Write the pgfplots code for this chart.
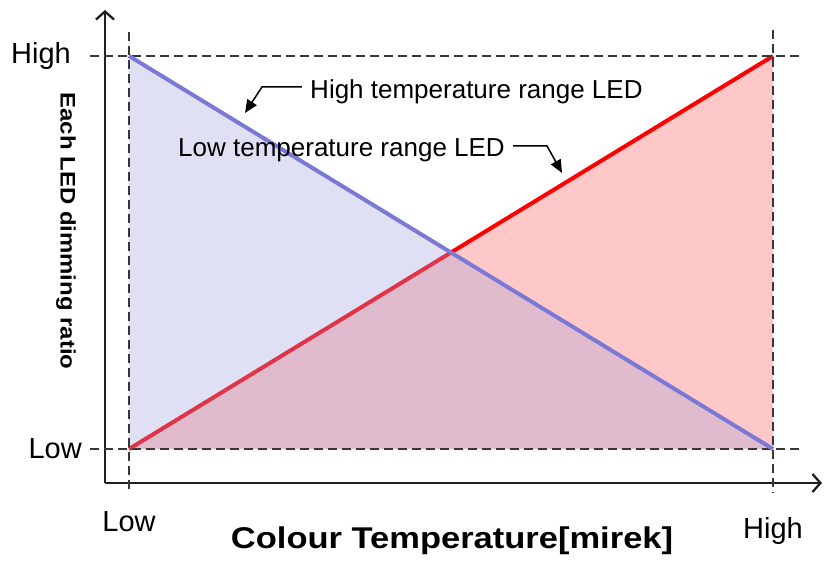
\documentclass[border=0pt]{standalone}
\usepackage{pgfplots}
\pgfplotsset{compat=1.18}
\usepackage{fontspec}
\setmainfont{Liberation Sans}
\usetikzlibrary{arrows.meta}
\definecolor{redfill}{RGB}{255,200,200}
\definecolor{bluefill}{RGB}{161,161,221}
\definecolor{blueline}{RGB}{122,122,214}
\definecolor{dashgray}{RGB}{55,55,55}
\begin{document}
\begin{tikzpicture}
\useasboundingbox (-105bp,-79bp) rectangle (720bp,483bp);
\begin{axis}[
  at={(0,0)}, anchor=south west,
  scale only axis, width=717bp, height=473bp,
  xmin=-0.03727, xmax=1.0761, ymin=-0.0865, ymax=1.1170,
  axis lines=left,
  axis line style={line width=2.3bp, color=black!88, -{Straight Barb[length=8bp,width=18bp]}},
  xtick={0,1}, ytick={0,1},
  xticklabels={Low,\raisebox{-7bp}{High}},
  yticklabels={Low,High\hspace*{11bp}},
  major tick length=0pt,
  xticklabel style={anchor=base, yshift=-48bp, font=\fontsize{29bp}{34bp}\selectfont},
  yticklabel style={anchor=east, inner sep=0pt, xshift=-23bp, font=\fontsize{29bp}{34bp}\selectfont},
  xlabel={\bfseries\scalebox{1.15}[1]{Colour Temperature[mirek]}},
  xlabel style={at={(axis description cs:0.484,-0.1395)}, anchor=base, inner sep=0pt, font=\fontsize{30bp}{35bp}\selectfont},
  ylabel={\bfseries\scalebox{1.14}[1]{Each LED dimming ratio}},
  ylabel style={at={(axis description cs:-0.0544,0.5328)}, anchor=center, rotate=-180, inner sep=0pt, font=\fontsize{21bp}{25bp}\selectfont},
  clip=false,
]
% red (low temperature LED) area and line
\addplot[draw=none, fill=redfill] coordinates {(0,0) (1,1) (1,0) (0,0)};
\addplot[red, line width=4bp] coordinates {(0,0) (1,1)};
% blue (high temperature LED) area
\addplot[draw=none, fill=bluefill, fill opacity=0.33] coordinates {(0,1) (1,0) (0,0) (0,1)};
% dashed guide lines
\draw[dashgray, line width=1.6bp, dash pattern=on 9bp off 5bp] (axis cs:-0.0606,1) -- (axis cs:1.042,1);
\draw[dashgray, line width=1.6bp, dash pattern=on 9bp off 5bp] (axis cs:-0.0606,0) -- (axis cs:1.042,0);
\draw[dashgray, line width=1.6bp, dash pattern=on 9bp off 5bp] (axis cs:0,1.061) -- (axis cs:0,-0.1145);
\draw[dashgray, line width=1.6bp, dash pattern=on 9bp off 5bp] (axis cs:1,1.066) -- (axis cs:1,-0.1120);
% blue line
\addplot[blueline, line width=4bp] coordinates {(0,1) (1,0)};
% annotations
\node[anchor=base west, inner sep=0pt, font=\fontsize{26bp}{31bp}\selectfont] at (axis cs:0.2811,0.8906) {High temperature range LED};
\node[anchor=base west, inner sep=0pt, font=\fontsize{26bp}{31bp}\selectfont] at (axis cs:0.0761,0.7455) {Low temperature range LED};
\draw[line width=1.5bp, -{Triangle[length=13bp,width=11bp]}] (axis cs:0.2686,0.9211) -- (axis cs:0.2065,0.9211) -- (axis cs:0.1801,0.8550);
\draw[line width=1.5bp, -{Triangle[length=13bp,width=11bp]}] (axis cs:0.5963,0.7710) -- (axis cs:0.6491,0.7710) -- (axis cs:0.6724,0.7023);
\end{axis}
\end{tikzpicture}
\end{document}
